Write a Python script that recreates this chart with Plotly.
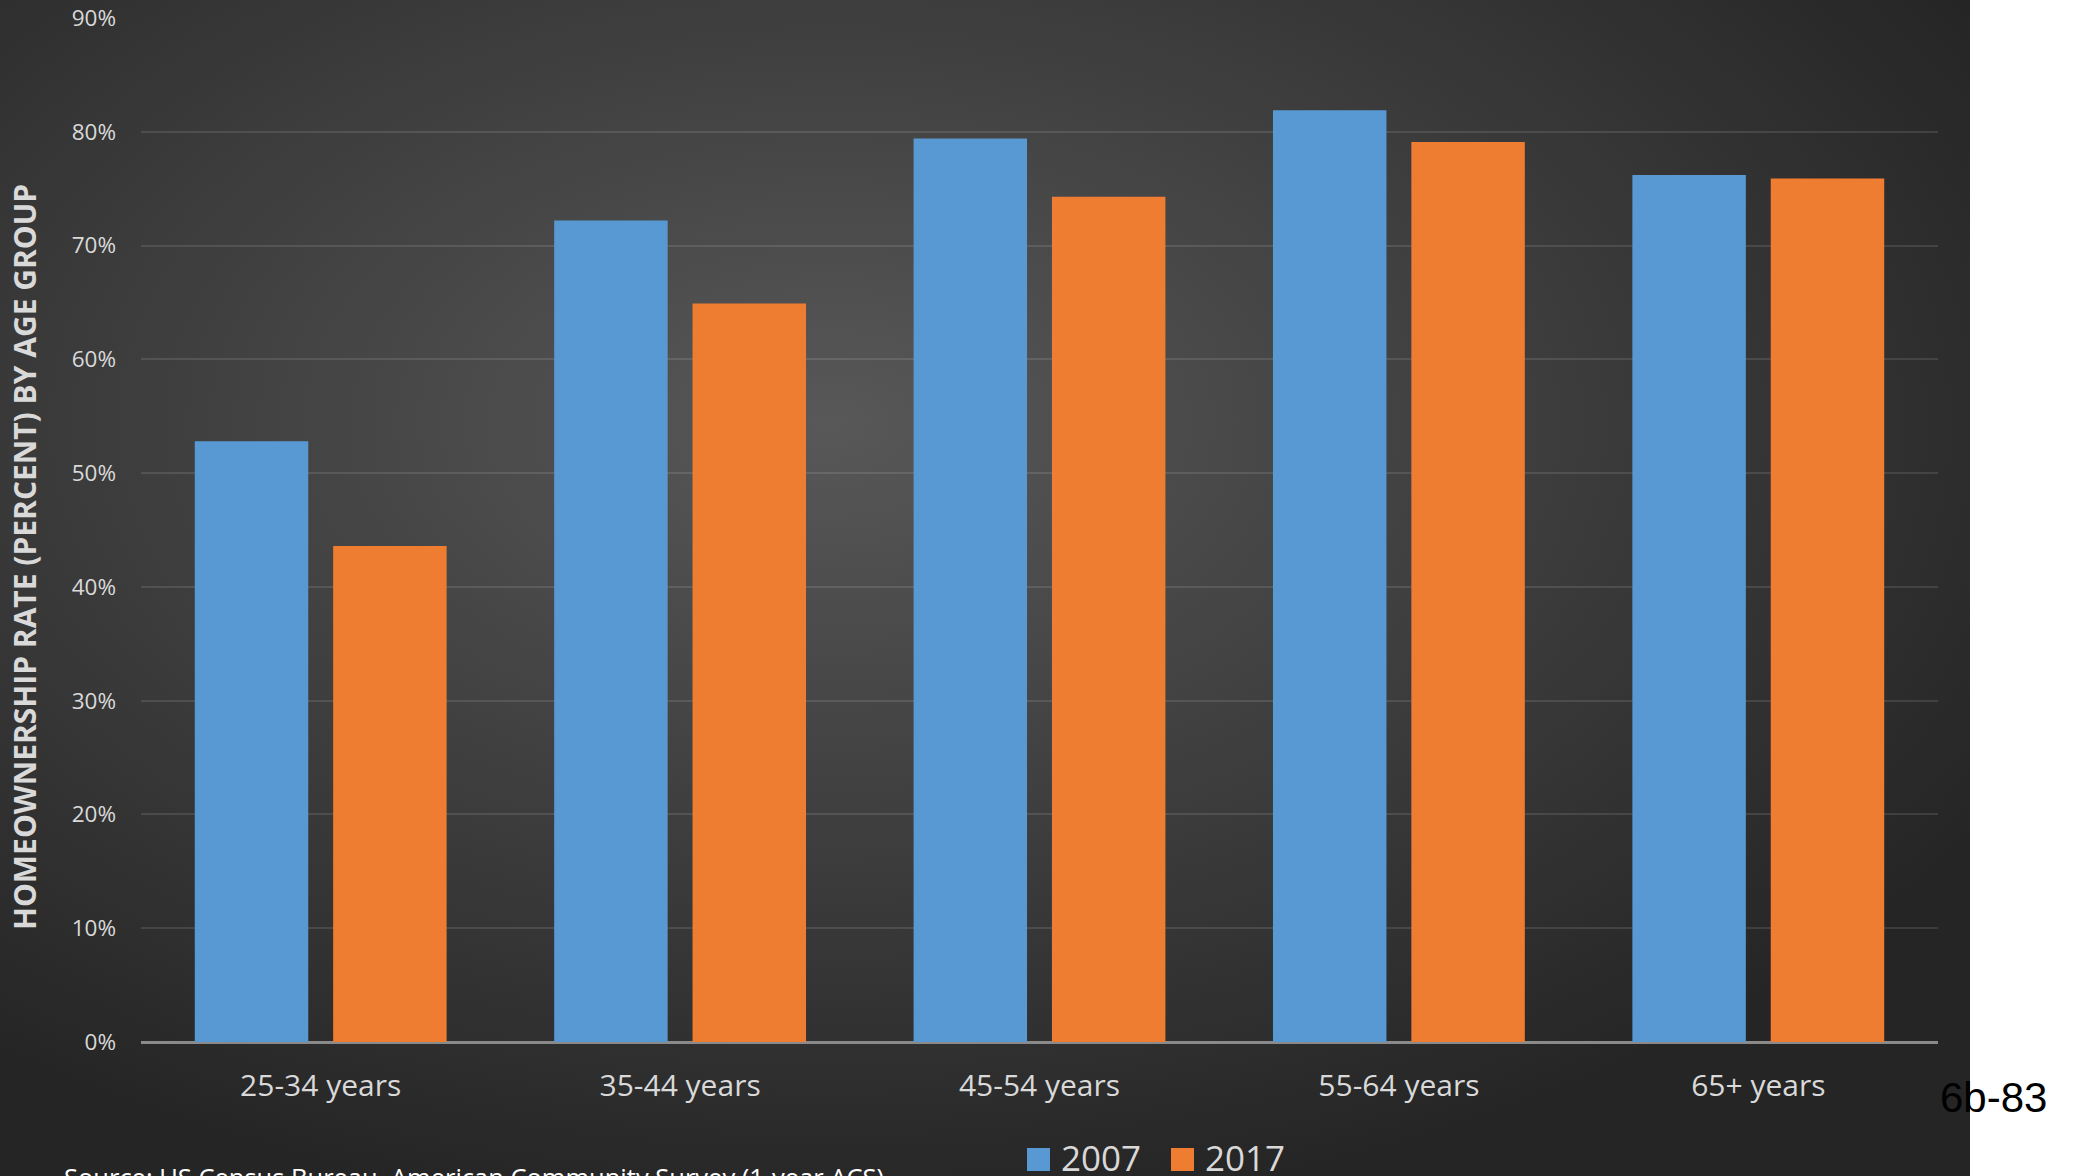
import base64
import plotly.graph_objects as go

categories = ["25-34 years", "35-44 years", "45-54 years", "55-64 years", "65+ years"]
rate_2007 = [52.8, 72.2, 79.4, 81.9, 76.2]
rate_2017 = [43.6, 64.9, 74.3, 79.1, 75.9]
series_names = ["2007", "2017"]
y_ticks = [0, 10, 20, 30, 40, 50, 60, 70, 80, 90]
y_tick_labels = [f"{v}%" for v in y_ticks]

W, H = 2080, 1176
L, R, T, B = 141, 142, 18, 134
PW, PH = W - L - R, H - T - B

def px_x(p):
    return (p - L) / PW

def px_y(p):
    return (H - B - p) / PH

BLUE = "#5899d4"
ORANGE = "#ee7d31"
TXT = "#d9d9d9"

fig = go.Figure()
fig.add_trace(go.Bar(x=categories, y=rate_2007, name=series_names[0],
                     marker=dict(color=BLUE, line=dict(width=0)), showlegend=False))
fig.add_trace(go.Bar(x=categories, y=rate_2017, name=series_names[1],
                     marker=dict(color=ORANGE, line=dict(width=0)), showlegend=False))

# radial gradient background (dark slide area)
dark_w = 1970
svg = (
    f'<svg xmlns="http://www.w3.org/2000/svg" width="{dark_w}" height="{H}" '
    f'viewBox="0 0 {dark_w} {H}" preserveAspectRatio="none">'
    '<defs><radialGradient id="g" cx="0.42" cy="0.36" r="0.68">'
    '<stop offset="0" stop-color="#585858"/>'
    '<stop offset="0.55" stop-color="#3c3c3c"/>'
    '<stop offset="1" stop-color="#252525"/>'
    '</radialGradient></defs>'
    f'<rect x="0" y="0" width="{dark_w}" height="{H}" fill="url(#g)"/></svg>'
)
src = "data:image/svg+xml;base64," + base64.b64encode(svg.encode()).decode()

fig.update_layout(
    template="none",
    width=W, height=H,
    margin=dict(l=L, r=R, t=T, b=B, pad=0, autoexpand=False),
    paper_bgcolor="white",
    plot_bgcolor="rgba(0,0,0,0)",
    barmode="group",
    bargap=0.23,
    bargroupgap=0.18,
    showlegend=False,
    font=dict(family="Open Sans", color=TXT),
    images=[dict(source=src, xref="paper", yref="paper",
                 x=px_x(0), y=px_y(0), sizex=dark_w / PW, sizey=H / PH,
                 xanchor="left", yanchor="top", sizing="stretch", layer="below")],
    xaxis=dict(
        automargin=False,
        showgrid=False, showline=False, ticks="", zeroline=False,
        tickfont=dict(size=30, color=TXT, family="Open Sans"),
        ticklabelstandoff=23,
    ),
    yaxis=dict(
        automargin=False,
        range=[0, 90], tickmode="array", tickvals=y_ticks, ticktext=y_tick_labels,
        showgrid=True, gridcolor="rgba(255,255,255,0.11)", gridwidth=1.5,
        zeroline=True, zerolinecolor="#8a8a8a", zerolinewidth=3,
        showline=False, ticks="",
        tickfont=dict(size=22.5, color=TXT, family="Open Sans"),
        ticklabelstandoff=24,
    ),
)

annotations = [
    dict(text="<b>HOMEOWNERSHIP RATE (PERCENT) BY AGE GROUP</b>", textangle=-90,
         xref="paper", yref="paper", x=px_x(24), y=px_y(557),
         xanchor="center", yanchor="middle", showarrow=False,
         font=dict(size=30, color=TXT, family="Open Sans")),
    dict(text=series_names[0], xref="paper", yref="paper", x=px_x(1059), y=px_y(1157),
         xanchor="left", yanchor="middle", showarrow=False,
         font=dict(size=35, color=TXT, family="Open Sans")),
    dict(text=series_names[1], xref="paper", yref="paper", x=px_x(1203), y=px_y(1157),
         xanchor="left", yanchor="middle", showarrow=False,
         font=dict(size=35, color=TXT, family="Open Sans")),
    dict(text="Source: US Census Bureau, American Community Survey (1-year ACS)",
         xref="paper", yref="paper", x=px_x(62), y=px_y(1158),
         xanchor="left", yanchor="top", showarrow=False,
         font=dict(size=25.5, color="white", family="Open Sans")),
    dict(text="6b-83", xref="paper", yref="paper", x=px_x(1938), y=px_y(1097),
         xanchor="left", yanchor="middle", showarrow=False,
         font=dict(size=42, color="black", family="Liberation Sans")),
]
fig.update_layout(annotations=annotations)

shapes = [
    dict(type="rect", xref="paper", yref="paper",
         x0=px_x(1027), x1=px_x(1050), y0=px_y(1171), y1=px_y(1148),
         fillcolor=BLUE, line=dict(width=0), layer="above"),
    dict(type="rect", xref="paper", yref="paper",
         x0=px_x(1171), x1=px_x(1194), y0=px_y(1171), y1=px_y(1148),
         fillcolor=ORANGE, line=dict(width=0), layer="above"),
]
fig.update_layout(shapes=shapes)

fig.write_html("out.html")
